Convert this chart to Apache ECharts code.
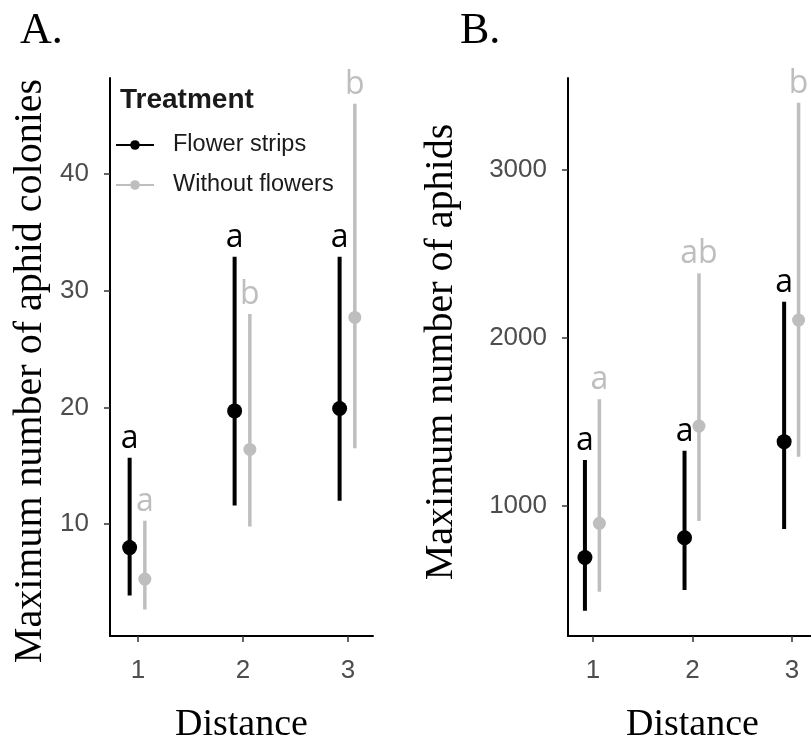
<!DOCTYPE html>
<html>
<head>
<meta charset="utf-8">
<script src="https://cdn.jsdelivr.net/npm/echarts@6/dist/echarts.min.js"></script>
<style>
html,body{margin:0;padding:0;background:#fff;}
#chart{width:811px;height:742px;}
</style>
</head>
<body>
<div id="chart"></div>
<script>
// ---- data ----
var distances = [1, 2, 3];
var treatments = ['Flower strips', 'Without flowers'];

// Panel A: maximum number of aphid colonies
var colFlowerMean = [8.0, 19.7, 19.9];
var colFlowerLow  = [3.9, 11.6, 12.0];
var colFlowerHigh = [15.7, 32.9, 32.9];
var colFlowerLetters = ['a', 'a', 'a'];
var colWithoutMean = [5.3, 16.4, 27.7];
var colWithoutLow  = [2.7, 9.8, 16.5];
var colWithoutHigh = [10.3, 28.0, 46.0];
var colWithoutLetters = ['a', 'b', 'b'];

// Panel B: maximum number of aphids
var aphFlowerMean = [693, 811, 1383];
var aphFlowerLow  = [377, 500, 863];
var aphFlowerHigh = [1274, 1329, 2216];
var aphFlowerLetters = ['a', 'a', 'a'];
var aphWithoutMean = [897, 1476, 2107];
var aphWithoutLow  = [490, 911, 1293];
var aphWithoutHigh = [1635, 2385, 3400];
var aphWithoutLetters = ['a', 'ab', 'b'];

var xTicks = [1, 2, 3];
var yTicksA = [10, 20, 30, 40];
var yTicksB = [1000, 2000, 3000];

// ---- styling ----
var BLACK = '#000000';
var GREY = '#BEBEBE';
var dodge = {'Flower strips': -0.08, 'Without flowers': 0.065};

function buildData(means, lows, highs, off) {
  return distances.map(function (d, i) {
    return [d + off, means[i], lows[i], highs[i]];
  });
}

function makeSeries(name, idx, means, lows, highs, letters, color, lw, r) {
  return {
    type: 'custom',
    name: name,
    xAxisIndex: idx,
    yAxisIndex: idx,
    data: buildData(means, lows, highs, dodge[name]),
    encode: {x: 0, y: [1, 2, 3]},
    z: name === 'Flower strips' ? 3 : 2,
    renderItem: function (params, api) {
      var x = api.value(0), m = api.value(1), lo = api.value(2), hi = api.value(3);
      var pm = api.coord([x, m]);
      var pl = api.coord([x, lo]);
      var ph = api.coord([x, hi]);
      return {
        type: 'group',
        children: [
          {type: 'line', shape: {x1: pl[0], y1: pl[1], x2: ph[0], y2: ph[1]},
           style: {stroke: color, lineWidth: lw}},
          {type: 'circle', shape: {cx: pm[0], cy: pm[1], r: r},
           style: {fill: color}},
          {type: 'text', x: ph[0], y: ph[1] - 19,
           style: {text: letters[params.dataIndex], fill: color,
                   font: '32px "Open Sans"', align: 'center', verticalAlign: 'middle'}}
        ]
      };
    }
  };
}

function plainLabel(v) { return String(v); }

var axisCommonX = {
  type: 'value',
  nameLocation: 'middle',
  nameGap: 70,
  nameTextStyle: {fontFamily: 'Liberation Serif', fontSize: 38, color: '#000'},
  axisLine: {show: true, lineStyle: {color: '#000', width: 2}},
  axisTick: {show: true, length: 6, lineStyle: {color: '#333', width: 1.5}, customValues: xTicks},
  axisLabel: {margin: 22, fontFamily: 'Liberation Sans', fontSize: 26, color: '#4D4D4D', customValues: xTicks, formatter: plainLabel},
  splitLine: {show: false}
};

function yAxisDef(min, max, ticks, name, gap, pad) {
  return {
    type: 'value', min: min, max: max,
    name: name, nameLocation: 'middle', nameGap: gap, nameRotate: 90,
    nameTextStyle: {fontFamily: 'Liberation Serif', fontSize: 40, color: '#000', padding: pad},
    axisLine: {show: true, lineStyle: {color: '#000', width: 2}},
    axisTick: {show: true, length: 6, lineStyle: {color: '#333', width: 1.5}, customValues: ticks},
    axisLabel: {margin: 21, fontFamily: 'Liberation Sans', fontSize: 26, color: '#4D4D4D', customValues: ticks, formatter: plainLabel},
    splitLine: {show: false}
  };
}

var chart = echarts.init(document.getElementById('chart'), null, {renderer: 'canvas'});

var option = {
  animation: false,
  backgroundColor: '#fff',
  title: [
    {text: 'A.', left: 15, top: 4, textStyle: {fontFamily: 'Liberation Serif', fontSize: 44, fontWeight: 'normal', color: '#000'}},
    {text: 'B.', left: 455, top: 4, textStyle: {fontFamily: 'Liberation Serif', fontSize: 44, fontWeight: 'normal', color: '#000'}},
    {text: 'Treatment', left: 115, top: 81, textStyle: {fontFamily: 'Liberation Sans', fontSize: 28, fontWeight: 'bold', color: '#1a1a1a'}}
  ],
  legend: {
    orient: 'vertical',
    left: 110, top: 128,
    itemWidth: 38, itemHeight: 12, itemGap: 16,
    data: treatments,
    textStyle: {fontFamily: 'Liberation Sans', fontSize: 23.5, color: '#1a1a1a', lineHeight: 24, padding: [0, 0, 0, 14]}
  },
  grid: [
    {left: 110, top: 78, width: 263, height: 558, containLabel: false, outerBoundsMode: 'none'},
    {left: 568, top: 78, width: 249, height: 558, containLabel: false, outerBoundsMode: 'none'}
  ],
  xAxis: [
    Object.assign({}, axisCommonX, {gridIndex: 0, min: 0.733, max: 3.238, name: 'Distance'}),
    Object.assign({}, axisCommonX, {gridIndex: 1, min: 0.75, max: 3.25, name: 'Distance'})
  ],
  yAxis: [
    Object.assign(yAxisDef(0.43, 48.2, yTicksA, 'Maximum number of aphid colonies', 60, [0, 28, 0, 0]), {gridIndex: 0}),
    Object.assign(yAxisDef(226, 3548, yTicksB, 'Maximum number of aphids', 107, [0, 0, 0, 10]), {gridIndex: 1})
  ],
  series: [
    {type: 'line', name: 'Flower strips', data: [], color: BLACK, symbol: 'circle', symbolSize: 10,
     lineStyle: {width: 4, color: BLACK}, itemStyle: {color: BLACK}},
    {type: 'line', name: 'Without flowers', data: [], color: GREY, symbol: 'circle', symbolSize: 10,
     lineStyle: {width: 4, color: GREY}, itemStyle: {color: GREY}},
    makeSeries('Without flowers', 0, colWithoutMean, colWithoutLow, colWithoutHigh, colWithoutLetters, GREY, 3.5, 6.5),
    makeSeries('Flower strips', 0, colFlowerMean, colFlowerLow, colFlowerHigh, colFlowerLetters, BLACK, 4, 7.5),
    makeSeries('Without flowers', 1, aphWithoutMean, aphWithoutLow, aphWithoutHigh, aphWithoutLetters, GREY, 3.5, 6.5),
    makeSeries('Flower strips', 1, aphFlowerMean, aphFlowerLow, aphFlowerHigh, aphFlowerLetters, BLACK, 4, 7.5)
  ]
};
chart.setOption(option);
</script>
</body>
</html>
